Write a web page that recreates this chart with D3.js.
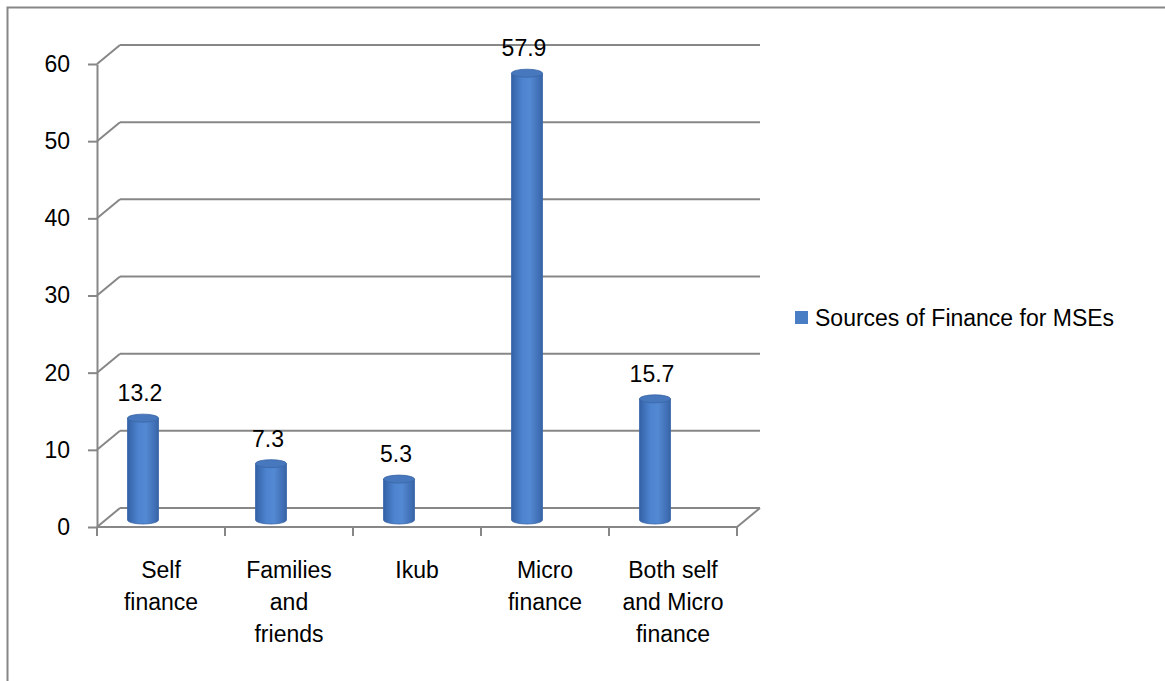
<!DOCTYPE html>
<html>
<head>
<meta charset="utf-8">
<script src="https://cdn.jsdelivr.net/npm/d3@7/dist/d3.min.js"></script>
<style>
  html, body { margin: 0; padding: 0; background: #fff; }
  svg { display: block; }
  text { font-family: "Liberation Sans", Arial, sans-serif; fill: #000; }
</style>
</head>
<body>
<svg id="chart" width="1165" height="681"></svg>
<script>
const categories = ["Self finance", "Families and friends", "Ikub", "Micro finance", "Both self and Micro finance"];
const categoryLines = [["Self", "finance"], ["Families", "and", "friends"], ["Ikub"], ["Micro", "finance"], ["Both self", "and Micro", "finance"]];
const values = [13.2, 7.3, 5.3, 57.9, 15.7];
const valueLabels = ["13.2", "7.3", "5.3", "57.9", "15.7"];
const yTicks = [0, 10, 20, 30, 40, 50, 60];
const seriesName = "Sources of Finance for MSEs";

const svg = d3.select("#chart");
const gridColor = "#878787";
const fontSize = 23;

// outer border
svg.append("rect").attr("x", 7.5).attr("y", 7.5).attr("width", 1200).attr("height", 700)
  .attr("fill", "none").attr("stroke", gridColor).attr("stroke-width", 2);

const x = d3.scaleBand().domain(categories).range([97, 737]);
const y = d3.scaleLinear().domain([0, 60]).range([527, 64]);
const depth = { dx: 23, dy: -19 };
const baseShift = -7;      // cylinder base sits slightly behind front floor edge
const cylShift = -18;      // horizontal shift of cylinders in the perspective
const cylW = 31, ry = 4;

// gradient for cylinders
const defs = svg.append("defs");
const grad = defs.append("linearGradient").attr("id", "cyl").attr("x1", "0").attr("x2", "1").attr("y1", "0").attr("y2", "0");
grad.append("stop").attr("offset", "0%").attr("stop-color", "#3461a6");
grad.append("stop").attr("offset", "35%").attr("stop-color", "#4d84cf");
grad.append("stop").attr("offset", "60%").attr("stop-color", "#5389d3");
grad.append("stop").attr("offset", "100%").attr("stop-color", "#3864a8");

// back wall gridlines + side wall diagonals
const grid = svg.append("g");
grid.selectAll("line.h").data(yTicks).join("line").attr("class", "h")
  .attr("x1", x.range()[0] + depth.dx).attr("x2", x.range()[1] + depth.dx)
  .attr("y1", d => y(d) + depth.dy).attr("y2", d => y(d) + depth.dy)
  .attr("stroke", gridColor).attr("stroke-width", 2);
grid.selectAll("line.d").data(yTicks).join("line").attr("class", "d")
  .attr("x1", x.range()[0]).attr("x2", x.range()[0] + depth.dx)
  .attr("y1", d => y(d)).attr("y2", d => y(d) + depth.dy)
  .attr("stroke", gridColor).attr("stroke-width", 2);
// floor front edge and right diagonal
grid.append("line").attr("x1", x.range()[0]).attr("x2", x.range()[1])
  .attr("y1", y(0)).attr("y2", y(0)).attr("stroke", gridColor).attr("stroke-width", 2);
grid.append("line").attr("x1", x.range()[1]).attr("x2", x.range()[1] + depth.dx)
  .attr("y1", y(0)).attr("y2", y(0) + depth.dy).attr("stroke", gridColor).attr("stroke-width", 2);

// y axis
const yAxis = d3.axisLeft(y).tickValues(yTicks).tickSize(9).tickSizeOuter(0).tickPadding(18);
const yg = svg.append("g").attr("transform", `translate(${x.range()[0]},0)`).call(yAxis);
yg.select(".domain").attr("stroke", gridColor).attr("stroke-width", 2);
yg.selectAll(".tick line").attr("stroke", gridColor).attr("stroke-width", 2);
yg.selectAll(".tick text").attr("font-size", fontSize).attr("font-family", "Liberation Sans, Arial, sans-serif").attr("fill", "#000");

// x ticks at band boundaries
const bounds = categories.map(c => x(c)).concat([x.range()[1]]);
svg.append("g").selectAll("line").data(bounds).join("line")
  .attr("x1", d => d).attr("x2", d => d).attr("y1", y(0)).attr("y2", y(0) + 9)
  .attr("stroke", gridColor).attr("stroke-width", 2);

// category labels
const cl = svg.append("g").selectAll("text").data(categories).join("text")
  .attr("text-anchor", "middle").attr("font-size", fontSize)
  .attr("x", d => x(d) + x.bandwidth() / 2).attr("y", 578);
cl.each(function(d, i) {
  d3.select(this).selectAll("tspan").data(categoryLines[i]).join("tspan")
    .attr("x", x(d) + x.bandwidth() / 2).attr("dy", (t, j) => j === 0 ? 0 : 32).text(t => t);
});

// cylinders
const cx = c => x(c) + x.bandwidth() / 2 + cylShift;
const baseY = y(0) + baseShift;
const topY = v => baseY - (y(0) - y(v));
const bars = svg.append("g").selectAll("g").data(categories).join("g");
bars.append("path")
  .attr("d", (c, i) => {
    const l = cx(c) - cylW / 2, r = cx(c) + cylW / 2, t = topY(values[i]);
    return `M${l},${t} L${l},${baseY} A${cylW/2},${ry} 0 0 0 ${r},${baseY} L${r},${t} Z`;
  })
  .attr("fill", "url(#cyl)").attr("stroke", "#3a66a6").attr("stroke-width", 0.8);
bars.append("ellipse")
  .attr("cx", c => cx(c)).attr("cy", (c, i) => topY(values[i]))
  .attr("rx", cylW / 2).attr("ry", ry)
  .attr("fill", "#4777bd").attr("stroke", "#3a66a6").attr("stroke-width", 0.8);

// value labels
svg.append("g").selectAll("text").data(categories).join("text")
  .attr("text-anchor", "middle").attr("font-size", fontSize)
  .attr("x", c => cx(c) - 3)
  .attr("y", (c, i) => topY(values[i]) - ry - 13)
  .text((c, i) => valueLabels[i]);

// legend
const lg = svg.append("g").attr("transform", "translate(795,311)");
lg.append("rect").attr("width", 13).attr("height", 13).attr("fill", "#4a7ec4");
lg.append("text").attr("x", 20).attr("y", 14.5).attr("font-size", fontSize).text(seriesName);
</script>
</body>
</html>
